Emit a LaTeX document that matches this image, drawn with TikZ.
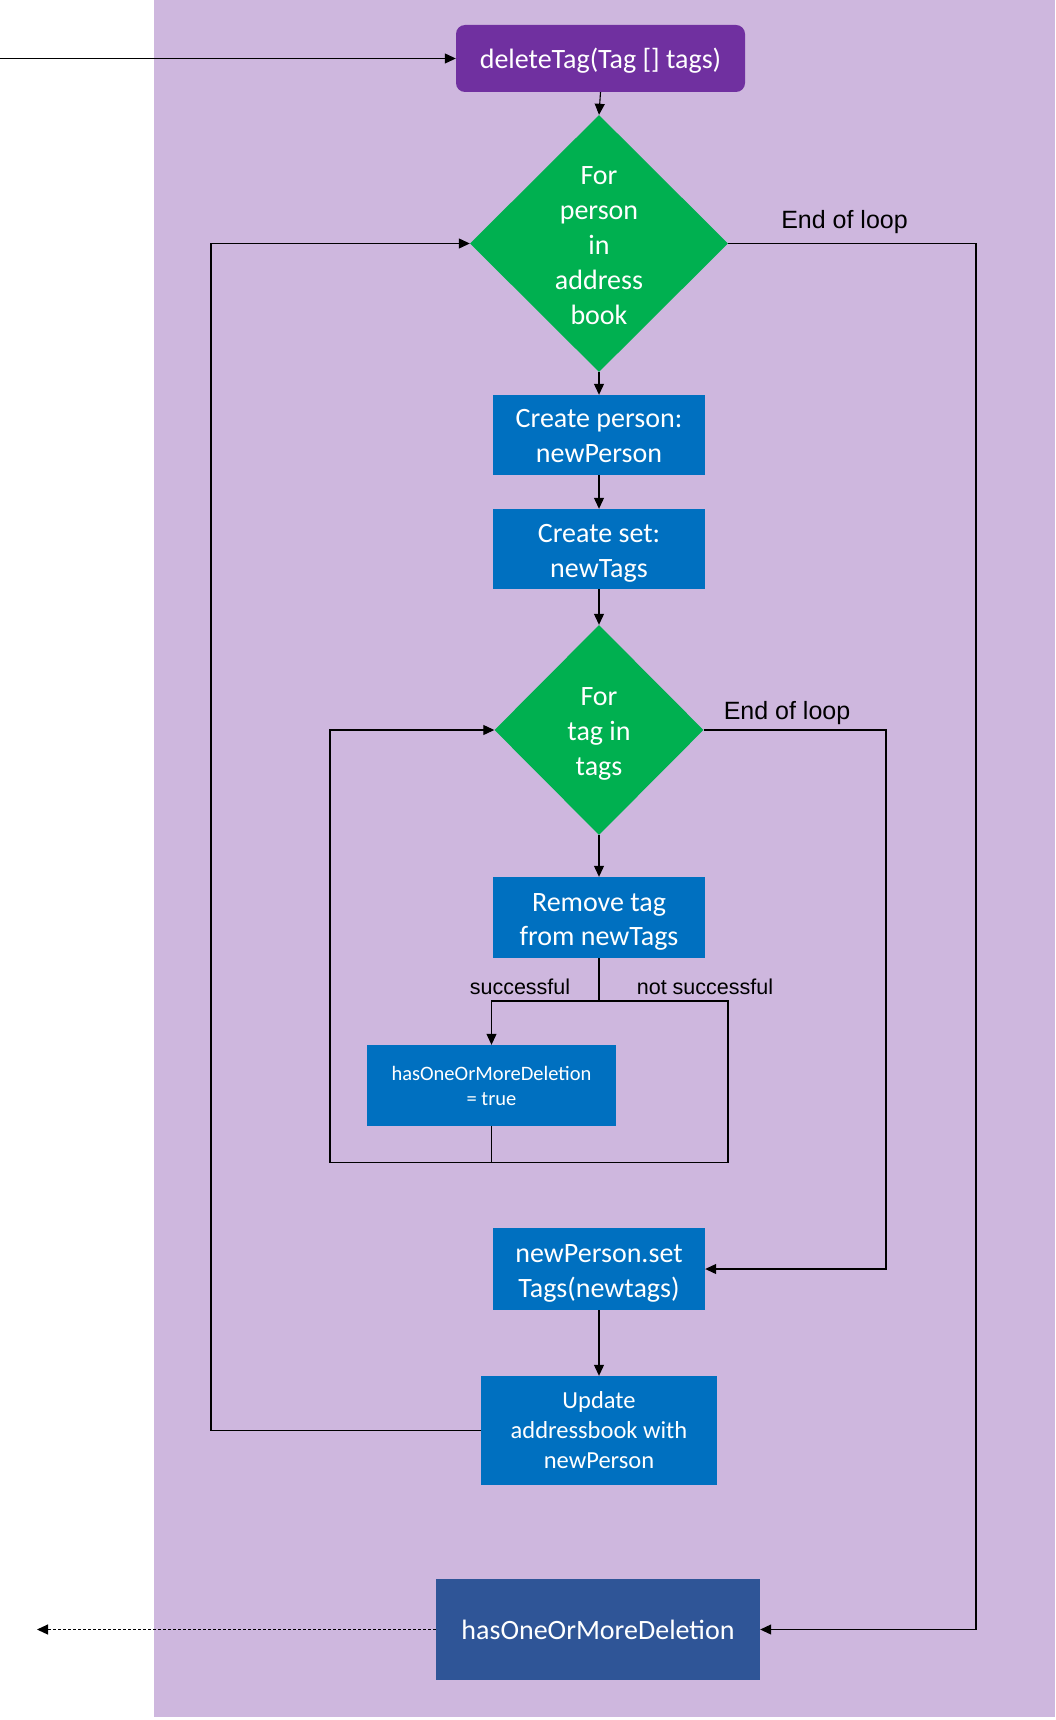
\documentclass[tikz,border=0pt]{standalone}
\usepackage{fontspec}
\setmainfont{Carlito}
\newfontfamily\arialf{Liberation Sans}
\usetikzlibrary{shapes.geometric,arrows.meta}
\definecolor{bgp}{RGB}{206,183,222}
\definecolor{boxblue}{RGB}{0,112,192}
\definecolor{dgreen}{RGB}{0,176,80}
\definecolor{violetbox}{RGB}{112,48,160}
\definecolor{darkblue}{RGB}{47,85,151}
\newcommand{\lowr}[1]{\rule{0pt}{#1}}
\begin{document}
\begin{tikzpicture}[x=1pt,y=-1pt,
  box/.style={fill=boxblue, text=white, align=center, inner sep=0pt, font=\fontsize{28}{34.5}\selectfont},
  dia/.style={shape=diamond, fill=dgreen, inner sep=0pt},
  dtext/.style={text=white, align=center, inner sep=0pt, font=\fontsize{28}{35}\selectfont},
  conn/.style={line width=1.1pt, draw=black},
  arr/.style={conn, -{Triangle[length=11pt,width=10pt]}},
  lbl/.style={font=\arialf\fontsize{25}{30}\selectfont, text=black, inner sep=0pt},
  slbl/.style={font=\arialf\fontsize{21.5}{26}\selectfont, text=black, inner sep=0pt},
]
\useasboundingbox (0,0) rectangle (1055,1720);
\fill[bgp] (154,0) rectangle (1055,1717);

% nodes
\node[box, fill=violetbox, rounded corners=9pt, minimum width=289pt, minimum height=67pt] (del) at (600.5,58.5) {\lowr{25pt}deleteTag(Tag [] tags)};
\node[dia, minimum width=258pt, minimum height=257pt] (d1) at (599,243.5) {};
\node[dtext] (d1t) at (599,245.5) {For\\person\\in\\address\\book};
\node[box, minimum width=212pt, minimum height=80pt] (cp) at (599,435) {\lowr{20pt}Create person:\\newPerson};
\node[box, minimum width=212pt, minimum height=80pt] (cs) at (599,549) {\lowr{27pt}Create set:\\newTags};
\node[dia, minimum width=209pt, minimum height=210pt] (d2) at (599,730) {};
\node[dtext] (d2t) at (599,734.4) {For\\tag in\\tags};
\node[box, minimum width=212pt, minimum height=81pt] (rt) at (599,917.5) {\lowr{27pt}Remove tag\\from newTags};
\node[box, minimum width=249pt, minimum height=81pt, font=\fontsize{20.5}{25}\selectfont] (ht) at (491.5,1085.5) {hasOneOrMoreDeletion\\= true};
\node[box, minimum width=212pt, minimum height=82pt] (ns) at (599,1269) {\lowr{27pt}newPerson.set\\Tags(newtags)};
\node[box, minimum width=236pt, minimum height=109pt, font=\fontsize{24.5}{30}\selectfont] (up) at (599,1430.5) {Update\\addressbook with\\newPerson};
\node[box, fill=darkblue, minimum width=324pt, minimum height=101pt] (fin) at (598,1629.5) {hasOneOrMoreDeletion};

% labels
\node[lbl] (eol1) at (844.5,222.3) {End of loop};
\node[lbl] (eol2) at (787,713) {End of loop};
\node[slbl] (suc) at (520,987) {successful};
\node[slbl] (nsuc) at (705,987) {not successful};

% coordinates
\coordinate (start) at (0,58.5);
\coordinate (j) at (599,1001);
\coordinate (jr) at (728,1001);
\coordinate (lb) at (330,1162.6);
\coordinate (rb) at (728,1162.6);
\coordinate (r2) at (886,730);
\coordinate (l1) at (211,1430.5);
\coordinate (r1) at (976,243.5);
\coordinate (out) at (37,1629.5);

% connectors
\draw[arr] (start) -- (del.west);
\draw[arr] (del.south) -- (d1.north);
\draw[arr] (d1.south) -- (cp.north);
\draw[arr] (cp.south) -- (cs.north);
\draw[arr] (cs.south) -- (d2.north);
\draw[arr] (d2.south) -- (rt.north);
\draw[conn] (rt.south) -- (j);
\draw[arr] (j) -| (ht.north);
\draw[conn] (j) -- (jr) -- (rb);
\draw[conn] (ht.south) -- (ht.south |- lb);
\draw[arr] (rb) -- (lb) |- (d2.west);
\draw[arr] (d2.east) -- (r2) |- (ns.east);
\draw[arr] (ns.south) -- (up.north);
\draw[arr] (up.west) -- (l1) |- (d1.west);
\draw[arr] (d1.east) -- (r1) |- (fin.east);
\draw[arr, dash pattern=on 3pt off 2pt] (fin.west) -- (out);
\end{tikzpicture}
\end{document}
